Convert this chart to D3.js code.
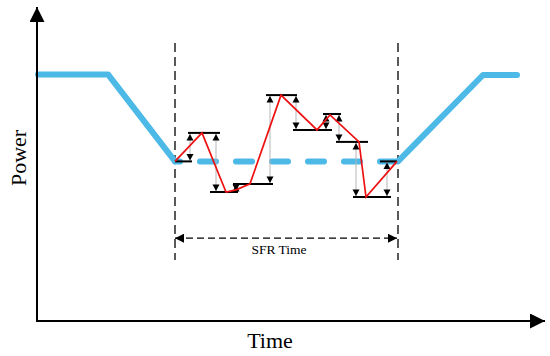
<!DOCTYPE html>
<html>
<head>
<meta charset="utf-8">
<script src="https://cdn.jsdelivr.net/npm/d3@7"></script>
<style>
  body { margin: 0; background: #fff; }
  svg { display: block; background: #fff; }
</style>
</head>
<body>
<svg width="550" height="356"></svg>
<script>
// scheduled power (blue), the middle part is dashed
const baseTime  = [0.2, 14.2, 27.6, 72.2, 89.2, 96];
const basePower = [82.2, 82.2, 53.2, 53.2, 82, 82];

// SFR window
const sfrTime = [27.6, 72.2];

// requested levels (black steps)
const stepStart = [27.6, 30.2, 34.6, 39.2, 45.8, 51.2, 57.2, 59.8, 63.2, 68.6];
const stepEnd   = [31.0, 36.6, 40.2, 47.2, 52.0, 59.0, 60.8, 66.2, 70.8, 72.0];
const stepPower = [53.2, 62.7, 43.0, 45.7, 75.3, 63.7, 69.0, 59.7, 41.3, 53.2];

// actual response (red)
const respTime  = [27.6, 33.0, 37.8, 39.8, 42.6, 48.8, 56.0, 58.6, 64.4, 65.8, 72.0];
const respPower = [53.2, 62.7, 43.0, 43.7, 45.7, 75.3, 63.7, 68.7, 59.7, 41.3, 53.2];

// deviation arrows (grey, black heads)
const arrowTime = [30.6, 35.8, 39.8, 46.6, 51.8, 57.8, 60.4, 63.8, 70.0];
const arrowHigh = [62.7, 62.7, 45.7, 75.3, 75.3, 69.0, 69.0, 59.7, 53.2];
const arrowLow  = [53.2, 43.0, 43.0, 45.7, 63.7, 63.7, 59.7, 41.3, 41.3];

const axisLabels = { x: 'Time', y: 'Power' };
const sfrLabel = 'SFR Time';

const svg = d3.select('svg');
const font = '"Liberation Serif", "Times New Roman", serif';

const x = d3.scaleLinear().domain([0, 100]).range([37, 537]);
const y = d3.scaleLinear().domain([0, 100]).range([321, 21]);

// markers
const defs = svg.append('defs');
defs.append('marker')
  .attr('id', 'axisHead')
  .attr('viewBox', '0 0 15 15')
  .attr('refX', 15).attr('refY', 7.5)
  .attr('markerWidth', 15).attr('markerHeight', 15)
  .attr('markerUnits', 'userSpaceOnUse')
  .attr('orient', 'auto')
  .append('path').attr('d', 'M0,0L15,7.5L0,15Z').attr('fill', '#000');
defs.append('marker')
  .attr('id', 'sfrHead')
  .attr('viewBox', '0 0 9 9')
  .attr('refX', 9).attr('refY', 4.5)
  .attr('markerWidth', 9).attr('markerHeight', 9)
  .attr('markerUnits', 'userSpaceOnUse')
  .attr('orient', 'auto-start-reverse')
  .append('path').attr('d', 'M0,0L9,4.5L0,9Z').attr('fill', '#000');

// window borders
svg.selectAll('.border')
  .data(sfrTime)
  .enter()
  .append('line')
  .attr('x1', d => x(d)).attr('x2', d => x(d))
  .attr('y1', y(92.7)).attr('y2', y(20.3))
  .attr('stroke', '#000')
  .attr('stroke-width', 1.3)
  .attr('stroke-dasharray', '9,5');

// blue schedule
const base = baseTime.map((t, i) => [t, basePower[i]]);
const line = d3.line().x(d => x(d[0])).y(d => y(d[1]));
const blue = '#4cb9e7';

[base.slice(0, 3), base.slice(3)].forEach(part => {
  svg.append('path')
    .attr('d', line(part))
    .attr('fill', 'none')
    .attr('stroke', blue)
    .attr('stroke-width', 6)
    .attr('stroke-linejoin', 'round')
    .attr('stroke-linecap', 'round');
});
svg.append('path')
  .attr('d', line(base.slice(2, 4)))
  .attr('fill', 'none')
  .attr('stroke', blue)
  .attr('stroke-width', 6)
  .attr('stroke-linecap', 'round')
  .attr('stroke-dasharray', '16,20')
  .attr('stroke-dashoffset', 11);

// grey deviation arrows
const arrows = arrowTime.map((t, i) => ({ t: t, hi: arrowHigh[i], lo: arrowLow[i] }));
svg.selectAll('.dev')
  .data(arrows)
  .enter()
  .append('line')
  .attr('x1', d => x(d.t)).attr('x2', d => x(d.t))
  .attr('y1', d => y(d.hi)).attr('y2', d => y(d.lo))
  .attr('stroke', '#b5b5b5')
  .attr('stroke-width', 1);

svg.selectAll('.up')
  .data(arrows)
  .enter()
  .append('path')
  .attr('d', d => {
    const cx = x(d.t), ty = y(d.hi) + 1;
    return `M${cx},${ty}L${cx + 3.5},${ty + 6.5}L${cx - 3.5},${ty + 6.5}Z`;
  })
  .attr('fill', '#000');

svg.selectAll('.down')
  .data(arrows)
  .enter()
  .append('path')
  .attr('d', d => {
    const cx = x(d.t), ty = y(d.lo) - 1;
    return `M${cx},${ty}L${cx + 3.5},${ty - 6.5}L${cx - 3.5},${ty - 6.5}Z`;
  })
  .attr('fill', '#000');

// black steps
svg.selectAll('.step')
  .data(stepPower)
  .enter()
  .append('line')
  .attr('x1', (d, i) => x(stepStart[i]))
  .attr('x2', (d, i) => x(stepEnd[i]))
  .attr('y1', d => y(d)).attr('y2', d => y(d))
  .attr('stroke', '#000')
  .attr('stroke-width', 2);

// red response
svg.append('path')
  .attr('d', line(respTime.map((t, i) => [t, respPower[i]])))
  .attr('fill', 'none')
  .attr('stroke', '#ee1111')
  .attr('stroke-width', 1.7)
  .attr('stroke-linejoin', 'miter');

// SFR time span
svg.append('line')
  .attr('x1', x(sfrTime[0])).attr('x2', x(sfrTime[1]) - 1)
  .attr('y1', y(27.6)).attr('y2', y(27.6))
  .attr('stroke', '#000')
  .attr('stroke-width', 1.3)
  .attr('stroke-dasharray', '7,4')
  .attr('marker-start', 'url(#sfrHead)')
  .attr('marker-end', 'url(#sfrHead)');

svg.append('text')
  .attr('x', x(48.4)).attr('y', y(22.5))
  .attr('text-anchor', 'middle')
  .attr('font-family', font)
  .attr('font-size', 13.5)
  .text(sfrLabel);

// axes
svg.append('line')
  .attr('x1', x(0)).attr('x2', 545)
  .attr('y1', y(0)).attr('y2', y(0))
  .attr('stroke', '#000').attr('stroke-width', 2)
  .attr('marker-end', 'url(#axisHead)');
svg.append('line')
  .attr('x1', x(0)).attr('x2', x(0))
  .attr('y1', y(0) + 1).attr('y2', 7)
  .attr('stroke', '#000').attr('stroke-width', 2)
  .attr('marker-end', 'url(#axisHead)');

svg.append('text')
  .attr('x', 270).attr('y', 348)
  .attr('text-anchor', 'middle')
  .attr('font-family', font)
  .attr('font-size', 22)
  .text(axisLabels.x);

svg.append('text')
  .attr('transform', 'translate(26,158) rotate(-90)')
  .attr('text-anchor', 'middle')
  .attr('font-family', font)
  .attr('font-size', 22)
  .text(axisLabels.y);
</script>
</body>
</html>
